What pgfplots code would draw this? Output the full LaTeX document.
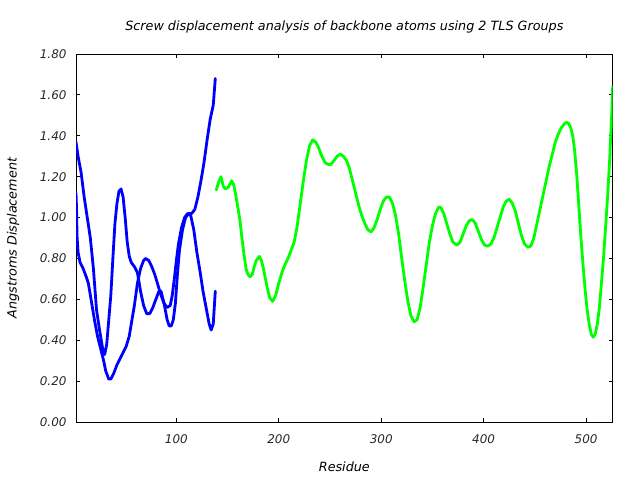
\documentclass[border=0pt]{standalone}
\usepackage{pgfplots}
\pgfplotsset{compat=1.18}
\usepackage{fontspec}
\setmainfont{DejaVu Sans}
\definecolor{gpblue}{RGB}{0,0,255}
\definecolor{gpgreen}{RGB}{0,255,0}
\begin{document}
\begin{tikzpicture}
\path[use as bounding box] (0,0) rectangle (640bp,480bp);
\begin{axis}[
  at={(76bp,58bp)}, anchor=south west,
  width=536.7bp, height=368bp, scale only axis,
  xmin=2, xmax=526, ymin=0, ymax=1.8,
  xtick={100,200,300,400,500},
  ytick={0,0.2,0.4,0.6,0.8,1.0,1.2,1.4,1.6,1.8},
  yticklabel style={/pgf/number format/fixed, /pgf/number format/fixed zerofill, /pgf/number format/precision=2, xshift=-6bp},
  /pgf/number format/assume math mode=true,
  tick label style={font=\fontsize{12}{14}\selectfont\itshape, black!85},
  xticklabel style={yshift=-9bp},
  tick align=inside, major tick length=4bp,
  axis line style={line width=0.9bp},
  tick style={line width=0.9bp, black},
  title={Screw displacement analysis of backbone atoms using 2 TLS Groups},
  title style={at={(axis description cs:0.5,1.058)}, anchor=center, font=\fontsize{12.8}{15}\selectfont\itshape},
  xlabel={Residue},
  xlabel style={at={(axis description cs:0.5,-0.1223)}, anchor=center, font=\fontsize{12.8}{15}\selectfont\itshape},
  ylabel={Angstroms Displacement},
  ylabel style={at={(axis description cs:-0.1174,0.5)}, anchor=center, font=\fontsize{12.8}{15}\selectfont\itshape},
  every axis plot/.append style={line width=2.8bp, line join=round, line cap=round},
]
\addplot[gpblue] coordinates {
(2,1.37) (4,1.30) (7,1.22) (10,1.10) (13,1.00) (16,0.90) (19,0.75) (22,0.55)
(25,0.45) (28,0.36) (30,0.33) (32,0.38) (34,0.50) (36,0.62) (38,0.80) (40,0.97)
(42,1.07) (44,1.13) (46,1.14) (48,1.10) (50,1.00) (52,0.88) (54,0.81) (56,0.78)
(59,0.76) (62,0.73) (65,0.64) (68,0.57) (71,0.53) (74,0.53) (77,0.56) (80,0.60)
(83,0.64) (85,0.64) (88,0.58) (91,0.50) (93,0.47) (95,0.47) (97,0.50) (99,0.58)
(101,0.72) (103,0.84) (106,0.94) (109,1.00) (112,1.02) (115,1.02) (118,1.04)
(121,1.10) (124,1.18) (127,1.27) (130,1.38) (133,1.48) (136,1.55) (138,1.68)
};
\addplot[gpblue] coordinates {
(2,1.12) (2.5,1.05) (3,0.91) (4,0.83) (6,0.78) (9,0.75) (12,0.71) (14,0.68)
(17,0.59) (20,0.50) (23,0.42) (26,0.36) (29,0.30) (31,0.25) (34,0.21) (36,0.21)
(39,0.24) (42,0.28) (45,0.31) (48,0.34) (51,0.37) (54,0.42) (56,0.48) (59,0.57)
(62,0.68) (65,0.75) (68,0.79) (70,0.80) (73,0.79) (76,0.76) (79,0.72) (82,0.67)
(85,0.62) (88,0.58) (91,0.56) (94,0.57) (96,0.62) (98,0.70) (100,0.79) (102,0.87)
(105,0.95) (108,1.00) (111,1.02) (114,1.01) (117,0.94) (120,0.83) (123,0.74)
(126,0.64) (129,0.56) (132,0.48) (134,0.45) (136,0.48) (137,0.56) (138,0.64)
};
\addplot[gpgreen] coordinates {
(139,1.135) (141,1.17) (143.5,1.20) (146,1.15) (148,1.14) (151,1.15) (154,1.18)
(156,1.16) (158,1.11) (160,1.05) (162,0.99) (164,0.90) (166,0.82) (168,0.75)
(170,0.72) (172,0.71) (174,0.72) (176,0.76) (178,0.79) (181,0.81) (183,0.79)
(185,0.75) (187,0.70) (189,0.65) (191,0.61) (194,0.59) (197,0.62) (200,0.68)
(203,0.73) (206,0.77) (209,0.80) (212,0.84) (215,0.88) (218,0.96) (221,1.07)
(224,1.18) (227,1.28) (230,1.35) (233,1.38) (236,1.37) (239,1.34) (242,1.30)
(245,1.27) (248,1.26) (251,1.26) (254,1.28) (257,1.30) (260,1.31) (263,1.30)
(266,1.28) (269,1.24) (272,1.18) (275,1.12) (278,1.06) (281,1.01) (284,0.97)
(287,0.94) (290,0.93) (293,0.95) (296,0.99) (299,1.04) (302,1.08) (305,1.10)
(308,1.10) (311,1.07) (314,1.01) (317,0.92) (320,0.80) (323,0.69) (326,0.59)
(329,0.52) (332,0.49) (335,0.50) (338,0.56) (341,0.66) (344,0.77) (347,0.88)
(350,0.96) (353,1.02) (356,1.05) (358,1.05) (361,1.02) (364,0.97) (367,0.92)
(370,0.88) (374,0.865) (377,0.88) (380,0.92) (383,0.96) (386,0.985) (389,0.99)
(392,0.97) (395,0.93) (398,0.89) (401,0.865) (404,0.86) (407,0.87) (410,0.90)
(413,0.95) (416,1.00) (419,1.05) (422,1.08) (425,1.09) (428,1.07) (431,1.03)
(434,0.97) (437,0.91) (440,0.87) (443,0.855) (446,0.86) (449,0.90) (452,0.97)
(455,1.04) (458,1.11) (461,1.18) (464,1.25) (467,1.31) (470,1.37) (473,1.41)
(476,1.44) (479,1.46) (481,1.465) (483,1.46) (485,1.44) (487,1.40) (489,1.32)
(491,1.20) (493,1.05) (495,0.90) (497,0.77) (499,0.65) (501,0.55) (503,0.48)
(505,0.43) (507,0.415) (509,0.43) (511,0.48) (513,0.56) (515,0.68) (517,0.80)
(519,0.95) (521,1.10) (523,1.28) (525,1.50) (526,1.64)
};
\end{axis}
\end{tikzpicture}
\end{document}
